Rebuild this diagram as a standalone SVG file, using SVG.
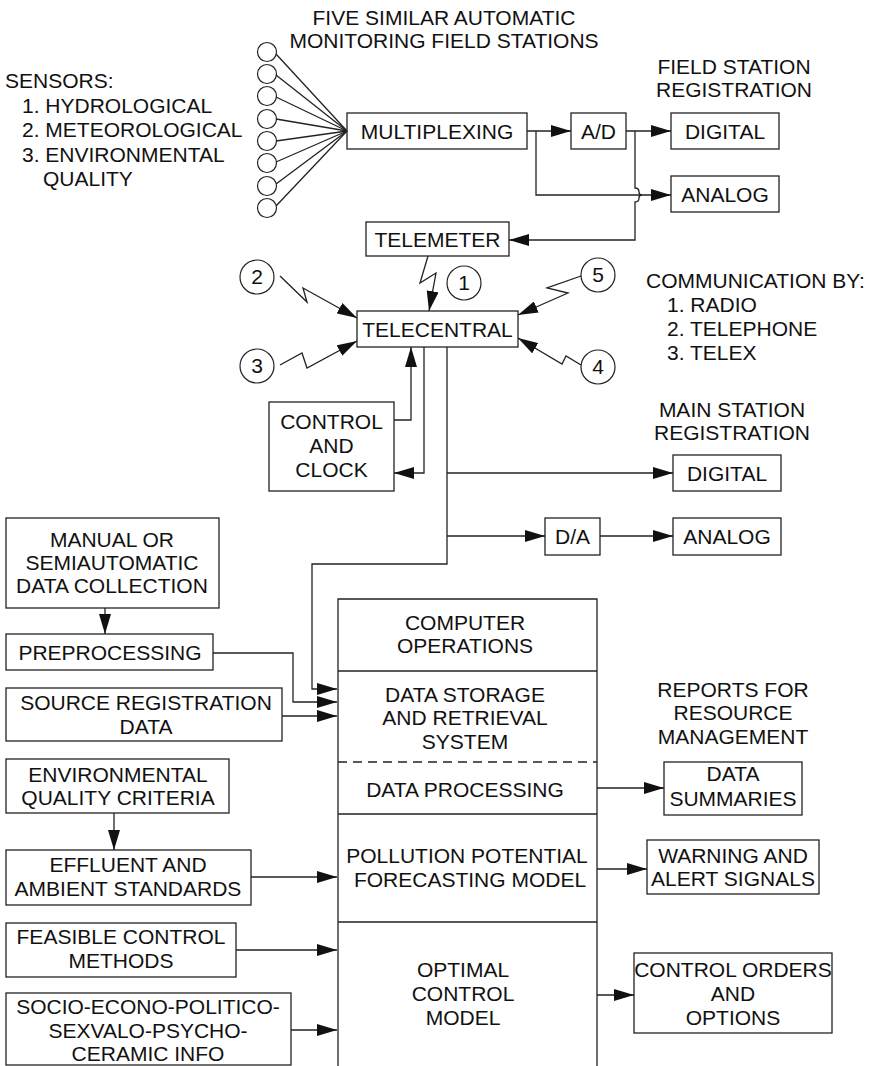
<svg xmlns="http://www.w3.org/2000/svg" width="875" height="1066" viewBox="0 0 875 1066">
<style>
text{font-family:"Liberation Sans",Arial,Helvetica,sans-serif;font-size:21px;fill:#111}
.c{text-anchor:middle}
.box{fill:#fff;stroke:#222;stroke-width:1.3}
.ln{fill:none;stroke:#222;stroke-width:1.3}
.arr{fill:none;stroke:#222;stroke-width:1.3;marker-end:url(#ah)}
.circ{fill:#fff;stroke:#222;stroke-width:1.2}
</style>
<defs>
<marker id="ah" markerWidth="20" markerHeight="12" refX="20" refY="6" orient="auto" markerUnits="userSpaceOnUse"><path d="M0,0 L20,6 L0,12 z" fill="#111"/></marker>
</defs>
<rect width="875" height="1066" fill="#fff"/>

<g id="title">
<text class="c" x="444" y="25">FIVE SIMILAR AUTOMATIC</text>
<text class="c" x="444" y="48">MONITORING FIELD STATIONS</text>
</g>
<g id="sensors-label">
<text x="5" y="88">SENSORS:</text>
<text x="22" y="113">1. HYDROLOGICAL</text>
<text x="22" y="137">2. METEOROLOGICAL</text>
<text x="22" y="162">3. ENVIRONMENTAL</text>
<text x="43" y="186">QUALITY</text>
</g>
<g id="sensors">
<circle class="circ" cx="267" cy="52" r="9.5"/>
<circle class="circ" cx="267" cy="74" r="9.5"/>
<circle class="circ" cx="267" cy="96" r="9.5"/>
<circle class="circ" cx="267" cy="119" r="9.5"/>
<circle class="circ" cx="267" cy="141" r="9.5"/>
<circle class="circ" cx="267" cy="163" r="9.5"/>
<circle class="circ" cx="267" cy="186" r="9.5"/>
<circle class="circ" cx="267" cy="208" r="9.5"/>
</g>
<g id="field-reg-label">
<text class="c" x="734" y="74">FIELD STATION</text>
<text class="c" x="734" y="97">REGISTRATION</text>
</g>
<g id="multiplexing"><rect class="box" x="347" y="113" width="180" height="36"/><text class="c" x="437" y="139">MULTIPLEXING</text></g>
<g id="ad"><rect class="box" x="571" y="113" width="55" height="36"/><text class="c" x="598.5" y="139">A/D</text></g>
<g id="field-digital"><rect class="box" x="671" y="113" width="108" height="36"/><text class="c" x="725" y="139">DIGITAL</text></g>
<g id="field-analog"><rect class="box" x="671" y="176" width="108" height="36"/><text class="c" x="725" y="202">ANALOG</text></g>
<g id="telemeter"><rect class="box" x="366" y="222" width="143" height="34"/><text class="c" x="437.5" y="247">TELEMETER</text></g>
<g id="telecentral"><rect class="box" x="357" y="311" width="161" height="36"/><text class="c" x="437.5" y="337">TELECENTRAL</text></g>
<g id="c1"><circle class="circ" cx="464" cy="283" r="17"/><text class="c" x="464" y="290">1</text></g>
<g id="c2"><circle class="circ" cx="257" cy="277" r="17"/><text class="c" x="257" y="284">2</text></g>
<g id="c3"><circle class="circ" cx="257" cy="366" r="17"/><text class="c" x="257" y="373">3</text></g>
<g id="c5"><circle class="circ" cx="598" cy="275" r="17"/><text class="c" x="598" y="282">5</text></g>
<g id="c4"><circle class="circ" cx="598" cy="367" r="17"/><text class="c" x="598" y="374">4</text></g>
<g id="comm-label">
<text x="646" y="288">COMMUNICATION BY:</text>
<text x="667" y="312">1. RADIO</text>
<text x="667" y="336">2. TELEPHONE</text>
<text x="667" y="360">3. TELEX</text>
</g>
<g id="control-clock"><rect class="box" x="269" y="402" width="125" height="89"/>
<text class="c" x="331.5" y="429">CONTROL</text><text class="c" x="331.5" y="453">AND</text><text class="c" x="331.5" y="477">CLOCK</text></g>
<g id="main-reg-label">
<text class="c" x="732" y="417">MAIN STATION</text>
<text class="c" x="732" y="440">REGISTRATION</text>
</g>
<g id="main-digital"><rect class="box" x="673" y="455" width="108" height="36"/><text class="c" x="727" y="481">DIGITAL</text></g>
<g id="da"><rect class="box" x="545" y="518" width="55" height="37"/><text class="c" x="572.5" y="544">D/A</text></g>
<g id="main-analog"><rect class="box" x="673" y="518" width="108" height="37"/><text class="c" x="727" y="544">ANALOG</text></g>

<g id="manual"><rect class="box" x="6" y="518" width="213" height="90"/>
<text class="c" x="112" y="547">MANUAL OR</text><text class="c" x="112" y="570">SEMIAUTOMATIC</text><text class="c" x="112" y="593">DATA COLLECTION</text></g>
<g id="preprocessing"><rect class="box" x="6" y="634" width="207" height="36"/><text class="c" x="110" y="660">PREPROCESSING</text></g>
<g id="source-reg"><rect class="box" x="6" y="688" width="276" height="53"/>
<text class="c" x="146" y="710">SOURCE REGISTRATION</text><text class="c" x="146" y="734">DATA</text></g>
<g id="env-criteria"><rect class="box" x="6" y="759" width="223" height="54"/>
<text class="c" x="118" y="782">ENVIRONMENTAL</text><text class="c" x="118" y="805">QUALITY CRITERIA</text></g>
<g id="effluent"><rect class="box" x="6" y="850" width="245" height="55"/>
<text class="c" x="128" y="872">EFFLUENT AND</text><text class="c" x="128" y="896">AMBIENT STANDARDS</text></g>
<g id="feasible"><rect class="box" x="6" y="923" width="230" height="54"/>
<text class="c" x="121" y="944">FEASIBLE CONTROL</text><text class="c" x="121" y="968">METHODS</text></g>
<g id="socio"><rect class="box" x="6" y="993" width="285" height="72"/>
<text class="c" x="148" y="1014">SOCIO-ECONO-POLITICO-</text><text class="c" x="148" y="1038">SEXVALO-PSYCHO-</text><text class="c" x="148" y="1061">CERAMIC INFO</text></g>

<g id="computer-column">
<path class="ln" d="M338,1066 V599 H597 V1066"/>
<line class="ln" x1="338" y1="671" x2="597" y2="671"/>
<line class="ln" x1="338" y1="762" x2="597" y2="762" stroke-dasharray="9,6"/>
<line class="ln" x1="338" y1="814" x2="597" y2="814"/>
<line class="ln" x1="338" y1="922" x2="597" y2="922"/>
<text class="c" x="465" y="630">COMPUTER</text><text class="c" x="465" y="653">OPERATIONS</text>
<text class="c" x="465" y="702">DATA STORAGE</text><text class="c" x="465" y="725">AND RETRIEVAL</text><text class="c" x="465" y="749">SYSTEM</text>
<text class="c" x="465" y="797">DATA PROCESSING</text>
<text class="c" x="467" y="863">POLLUTION POTENTIAL</text><text class="c" x="470" y="887">FORECASTING MODEL</text>
<text class="c" x="463" y="977">OPTIMAL</text><text class="c" x="463" y="1001">CONTROL</text><text class="c" x="463" y="1025">MODEL</text>
</g>
<g id="reports-label">
<text class="c" x="733" y="697">REPORTS FOR</text><text class="c" x="733" y="720">RESOURCE</text><text class="c" x="733" y="744">MANAGEMENT</text>
</g>
<g id="data-summaries"><rect class="box" x="664" y="762" width="138" height="53"/>
<text class="c" x="733" y="781">DATA</text><text class="c" x="733" y="806">SUMMARIES</text></g>
<g id="warning"><rect class="box" x="647" y="840" width="172" height="54"/>
<text class="c" x="733" y="863">WARNING AND</text><text class="c" x="733" y="886">ALERT SIGNALS</text></g>
<g id="control-orders"><rect class="box" x="634" y="953" width="198" height="80"/>
<text class="c" x="733" y="977">CONTROL ORDERS</text><text class="c" x="733" y="1001">AND</text><text class="c" x="733" y="1025">OPTIONS</text></g>

<g id="connectors">
<line class="ln" x1="276" y1="54" x2="347" y2="131"/>
<line class="ln" x1="276" y1="75" x2="347" y2="131"/>
<line class="ln" x1="276" y1="97" x2="347" y2="131"/>
<line class="ln" x1="276" y1="119" x2="347" y2="131"/>
<line class="ln" x1="276" y1="141" x2="347" y2="131"/>
<line class="ln" x1="276" y1="162" x2="347" y2="131"/>
<line class="ln" x1="276" y1="184" x2="347" y2="131"/>
<line class="ln" x1="276" y1="206" x2="347" y2="131"/>
<line class="arr" x1="527" y1="131" x2="571" y2="131"/>
<polyline class="arr" points="536,131 536,195 671,195"/>
<line class="arr" x1="626" y1="131" x2="671" y2="131"/>
<path class="arr" d="M635,131 V188 Q639,188 639,192 Q639,195 642,195 Q639,195 639,198 Q639,202 635,202 V240 H509"/>
<polyline class="arr" points="428,256 420,283 436,273 429,311"/>
<polyline class="arr" points="280,276 307,302 303,288 357,318"/>
<polyline class="arr" points="280,365 302,353 307,368 357,341"/>
<polyline class="arr" points="581,276 547,288 568,293 518,315"/>
<polyline class="arr" points="581,365 566,356 562,364 518,338"/>
<polyline class="arr" points="394,420 411,420 411,347"/>
<polyline class="arr" points="424,347 424,473 394,473"/>
<polyline class="arr" points="447,347 447,564 312,564 312,689 337,689"/>
<line class="arr" x1="447" y1="473" x2="673" y2="473"/>
<line class="arr" x1="447" y1="536" x2="545" y2="536"/>
<line class="arr" x1="600" y1="536" x2="673" y2="536"/>
<line class="arr" x1="105" y1="608" x2="105" y2="634"/>
<polyline class="arr" points="213,653 293,653 293,702 337,702"/>
<line class="arr" x1="282" y1="716" x2="337" y2="716"/>
<line class="arr" x1="114" y1="813" x2="114" y2="850"/>
<line class="arr" x1="251" y1="877" x2="337" y2="877"/>
<line class="arr" x1="236" y1="950" x2="337" y2="950"/>
<line class="arr" x1="291" y1="1030" x2="337" y2="1030"/>
<line class="arr" x1="597" y1="788" x2="664" y2="788"/>
<line class="arr" x1="597" y1="869" x2="647" y2="869"/>
<line class="arr" x1="597" y1="995" x2="634" y2="995"/>
</g>
</svg>
